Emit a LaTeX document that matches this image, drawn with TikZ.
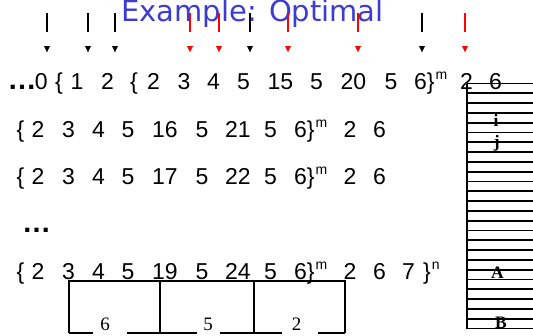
\documentclass[tikz,border=0pt]{standalone}
\usepackage{fontspec}
\setmainfont{Liberation Sans}
\newfontfamily\titlefont{DejaVu Sans}
\newfontfamily\romfont{Liberation Serif}
\usetikzlibrary{arrows.meta}
\definecolor{titleblue}{RGB}{60,60,210}
\newcommand\supm[1]{\hspace{1pt}\raisebox{10pt}{\fontsize{14}{16}\selectfont #1}}
\begin{document}
\begin{tikzpicture}[x=1pt,y=-1pt,
  num/.style={anchor=base west,inner sep=0pt,font=\fontsize{23}{27}\selectfont},
  dots/.style={anchor=base,inner sep=0pt,font=\bfseries\fontsize{29}{31}\selectfont},
  tick/.style={line width=1.8pt,dash pattern=on 19pt off 40pt,-{Triangle[width=5.5pt,length=6.5pt]}},
  weight/.style={anchor=base,inner sep=0pt,font=\romfont\fontsize{19}{22}\selectfont},
  slot/.style={anchor=base,inner sep=0pt,font=\romfont\bfseries\fontsize{17.5}{20}\selectfont},
  rule/.style={line width=1.8pt}]
\useasboundingbox (0,0) rectangle (533,335);
\node[anchor=base west,inner sep=0pt,font=\titlefont\fontsize{29}{33}\selectfont,text=titleblue] (title) at (121,21) {Example: Optimal};
\foreach \x/\c [count=\i] in {47/black,88/black,115/black,190/red,219/red,250/black,288/red,358/red,422/black,465/red}{
  \coordinate (top\i) at (\x,13);
  \coordinate (tip\i) at (\x,52.5);
  \draw[tick,\c] (top\i) -- (tip\i);
}
\node[dots] (d1) at (22,89.5) {…};
\foreach \x/\tok [count=\i] in {34.7/0,55/\{,70.5/1,101/2,130/\{,147/2,177.5/3,207/4,237/5,267.5/15,310/5,340.5/20,384.5/5,414/{6\}\supm{m}},460/2,489/6}
  \node[num] (r1-\i) at (\x,89.5) {\tok};
\foreach \r/\y/\a/\b in {2/137/16/21,3/184.5/17/22,5/279.5/19/24}{
  \foreach \x/\tok [count=\i] in {16.5/\{,31.5/2,62/3,92/4,121.5/5,152/\a,195.5/5,225/\b,264/5,294/{6\}\supm{m}},343.3/2,373/6}
    \node[num] (r\r-\i) at (\x,\y) {\tok};
}
\node[dots] (d4) at (36.5,232) {…};
\node[num] (r5-13) at (402,279.5) {7};
\node[num] (r5-14) at (423,279.5) {\}\supm{n}};
\draw[rule] (69,333) -- (69,281) -- (345,281) -- (345,333);
\draw[rule] (160,281) -- (160,333);
\draw[rule] (254,281) -- (254,333);
\draw[rule] (69,333) -- (93,333) (127,333) -- (197,333) (220,333) -- (282,333) (318,333) -- (345,333);
\node[weight] (w1) at (105,330) {6};
\node[weight] (w2) at (208,330) {5};
\node[weight] (w3) at (296.5,330) {2};
\draw[rule] (467,83.5) -- (467,328.5);
\foreach \k in {0,...,25}
  \draw[rule] (467,{83.5+9.8*\k}) -- (533,{83.5+9.8*\k});
\node[slot] (ci) at (496,126) {i};
\node[slot] (cj) at (496.7,147) {j};
\node[slot] (ca) at (497.5,278) {A};
\node[slot] (cb) at (501,328) {B};
\end{tikzpicture}
\end{document}
